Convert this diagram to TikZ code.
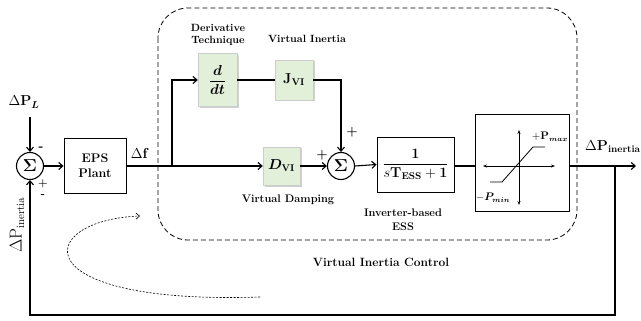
\documentclass[tikz,border=0pt]{standalone}
\usepackage{amsmath}
\usepackage{bm}
\usetikzlibrary{arrows.meta,shadows}
\definecolor{blockgreen}{HTML}{E2EFD9}
\tikzset{
  line/.style={line width=1.1pt},
  arr/.style={line width=1.1pt,-{Straight Barb[length=4pt,width=7pt,line width=1.1pt]}},
  sumnode/.style={circle,draw,line width=1.1pt,minimum size=27pt,inner sep=0pt,font=\fontsize{16}{17}\selectfont},
  plainbox/.style={rectangle,draw,line width=0.9pt,inner sep=1pt,align=center},
  greenbox/.style={rectangle,draw=gray!40,fill=blockgreen,line width=0.4pt,inner sep=1pt,
     drop shadow={shadow xshift=1.5pt,shadow yshift=-1.5pt,fill=gray!45,opacity=0.8}},
  lbl/.style={font=\bfseries\fontsize{10.5}{12}\selectfont,align=center,inner sep=0pt},
  sgn/.style={font=\bfseries\fontsize{13}{13}\selectfont,inner sep=0pt},
}
\begin{document}
\begin{tikzpicture}[x=1pt,y=-1pt]
\useasboundingbox (0,0) rectangle (641,321);
% dashed control region
\draw[dashed,line width=0.8pt,dash pattern=on 5pt off 3pt,rounded corners=30pt] (158,8) rectangle (577,240);

% blocks
\node[sumnode] (s1) at (30,166) {$\bm{\Sigma}$};
\node[plainbox,minimum width=62pt,minimum height=55pt,font=\bfseries\fontsize{12.5}{15}\selectfont] (eps) at (95,166) {EPS\\Plant};
\node[greenbox,minimum width=39pt,minimum height=53pt] (ddt) at (217.5,80) {\fontsize{15}{17}\selectfont$\dfrac{\bm{d}}{\bm{dt}}$};
\node[greenbox,minimum width=38pt,minimum height=40pt] (jvi) at (294,80) {\fontsize{14}{16}\selectfont$\mathbf{J}_{\textbf{VI}}$};
\node[greenbox,minimum width=37pt,minimum height=38pt] (dvi) at (281.5,166) {\fontsize{14}{16}\selectfont$\bm{D}_{\textbf{VI}}$};
\node[sumnode] (s2) at (341,166) {$\bm{\Sigma}$};
\node[plainbox,minimum width=77pt,minimum height=55pt] (ess) at (415.5,164.5) {\fontsize{14}{16}\selectfont$\dfrac{\mathbf{1}}{s\mathbf{T}_{\textbf{ESS}}+\mathbf{1}}$};
\node[plainbox,minimum width=94pt,minimum height=97pt] (sat) at (522,162.5) {};

% saturation characteristic
\draw[line width=0.8pt,{Stealth[length=4pt]}-{Stealth[length=4pt]}] (483,166) -- (555,166);
\draw[line width=0.8pt,{Stealth[length=4pt]}-{Stealth[length=4pt]}] (519,130) -- (519,205);
\draw[line width=0.8pt] (490,182) -- (502,182) -- (533,147) -- (545,147);
\node[inner sep=0pt,font=\fontsize{10.5}{11}\selectfont] (pmax) at (550,137) {$+\mathbf{P}_{\bm{max}}$};
\node[inner sep=0pt,font=\fontsize{10.5}{11}\selectfont] (pmin) at (493,198) {$-\bm{P}_{\bm{min}}$};

% coordinates
\coordinate (pl) at (30,117);
\coordinate (br) at (172,166);
\coordinate (brup) at (172,80);
\coordinate (jc) at (341,80);
\coordinate (tap) at (615,166);
\coordinate (out) at (636,166);
\coordinate (bR) at (615,315);
\coordinate (bL) at (30,315);

% connectors
\draw[arr] (pl) -- (s1.north);
\draw[arr] (s1.east) -- (eps.west);
\draw[arr] (eps.east) -- (dvi.west);
\draw[arr] (br) -- (brup) -- (ddt.west);
\draw[line] (ddt.east) -- (jvi.west);
\draw[arr] (jvi.east) -- (jc) -- (s2.north);
\draw[arr] (dvi.east) -- (s2.west);
\draw[arr] (s2.east) -- (ess.west);
\draw[line] (ess.east |- br) -- (sat.west |- br);
\draw[arr] (sat.east |- br) -- (out);
\draw[arr] (tap) -- (bR) -- (bL) -- (s1.south);

% curved dashed arrow
\coordinate (cs) at (260,297);
\coordinate (ce) at (140,216);
\draw[line width=0.6pt,dash pattern=on 2pt off 1.5pt,-{Straight Barb[length=3.5pt,width=6pt,line width=0.6pt]}] (cs) .. controls (20,305) and (35,220) .. (ce);

% labels
\node[inner sep=0pt,font=\fontsize{14}{15}\selectfont] (lpl) at (24,102) {$\Delta\mathbf{P}_{\bm{L}}$};
\node[inner sep=0pt,font=\fontsize{15}{16}\selectfont] (ldf) at (140,154) {$\Delta\mathbf{f}$};
\node[inner sep=0pt,font=\fontsize{14}{15}\selectfont,anchor=west] (lpi) at (585,147) {$\Delta\mathbf{P}_{\textbf{inertia}}$};
\node[inner sep=0pt,font=\fontsize{16}{17}\selectfont,rotate=90] (lpi2) at (17,225) {$\Delta\mathrm{P}_{\mathrm{inertia}}$};
\node[lbl] (tdt) at (218,35) {Derivative\\Technique};
\node[lbl] (tvi) at (307,39) {Virtual Inertia};
\node[lbl,font=\bfseries\fontsize{11}{12}\selectfont] (tvd) at (288,200) {Virtual Damping};
\node[lbl,font=\bfseries\fontsize{11}{14}\selectfont] (tess) at (403,220) {Inverter-based\\ESS};
\node[lbl,font=\bfseries\fontsize{12}{14}\selectfont] (tvic) at (381,262) {Virtual Inertia Control};

% signs
\node[sgn] (m1) at (41,149) {-};
\node[sgn,font=\bfseries\fontsize{11}{11}\selectfont] (p1) at (43,184) {+};
\node[sgn,font=\bfseries\fontsize{11}{11}\selectfont] (m2) at (43,196) {-};
\node[sgn] (p2) at (352,132) {+};
\node[sgn] (p3) at (322,155) {+};
\end{tikzpicture}
\end{document}
